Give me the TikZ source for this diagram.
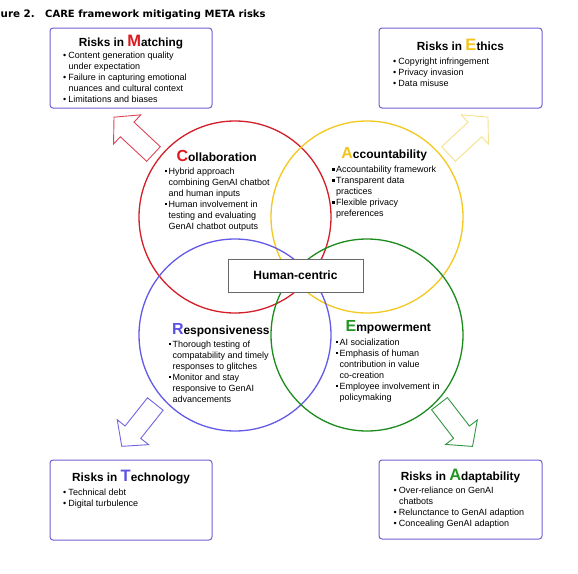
\documentclass[tikz,border=0pt]{standalone}
\usepackage{fontspec}
\setmainfont{Liberation Sans}
\newfontfamily\titlefont{DejaVu Sans}
\definecolor{cred}{RGB}{212,30,40}
\definecolor{cyellow}{RGB}{244,200,30}
\definecolor{cblue}{RGB}{100,90,232}
\definecolor{cgreen}{RGB}{28,140,30}
\definecolor{boxline}{RGB}{112,98,212}
\definecolor{bigred}{RGB}{222,24,30}
\definecolor{bigyellow}{RGB}{242,196,28}
\definecolor{bigblue}{RGB}{92,82,228}
\definecolor{biggreen}{RGB}{34,150,34}
\definecolor{arrred}{RGB}{222,70,88}
\definecolor{arryellow}{RGB}{246,226,140}
\definecolor{arrblue}{RGB}{112,102,226}
\definecolor{arrgreen}{RGB}{50,150,64}
\newcommand\bb{\makebox[5.3pt][l]{\strut•}}
\newcommand\sqb{\makebox[4pt][l]{\strut\raisebox{2.2pt}{\rule{2.3pt}{2.3pt}}}}
\newcommand\bi{\hspace*{5.3pt}}
\newcommand\si{\hspace*{4pt}}
\tikzset{
  riskbox/.style={draw=boxline, line width=1pt, rounded corners=3pt, fill=white},
  ring/.style={circle, line width=1.3pt, minimum size=192pt, inner sep=0pt},
  boxtitle/.style={anchor=base, inner sep=0pt, font=\bfseries\fontsize{11.8}{13}\selectfont},
  ringtitle/.style={anchor=base, inner sep=0pt, font=\bfseries\fontsize{12}{14}\selectfont},
  itemlist/.style={anchor=north west, inner sep=0pt, align=left, font=\fontsize{9}{11}\selectfont},
  blockarrow/.pic={\draw[pic actions, line width=0.9pt, line join=miter]
     (0,-10) -- (36,-10) -- (36,-20) -- (54,0) -- (36,20) -- (36,10) -- (0,10) -- cycle;}
}
\begin{document}
\begin{tikzpicture}[x=1pt,y=-1pt]
\useasboundingbox (0,0) rectangle (578,573);
\clip (0,0) rectangle (578,573);
\fill[white] (0,0) rectangle (578,573);

% title
\node[anchor=base east, inner sep=0pt, font=\titlefont\bfseries\fontsize{10.3}{12}\selectfont] (fignum) at (35,17) {Figure 2.};
\node[anchor=base west, inner sep=0pt, font=\titlefont\bfseries\fontsize{10}{12}\selectfont] (figtitle) at (45,17) {CARE framework mitigating META risks};

% circles
\node[ring, draw=cred] (collab) at (235,217) {};
\node[ring, draw=cyellow] (account) at (367,217) {};
\node[ring, draw=cblue] (respons) at (235,335) {};
\node[ring, draw=cgreen] (empower) at (367,335) {};

% human-centric
\node[draw={rgb,255:red,105;green,105;blue,105}, line width=0.9pt, fill=white, minimum width=135pt, minimum height=33pt, inner sep=0pt, font=\bfseries\fontsize{12}{14}\selectfont] (hc) at (295.5,275.5) {Human-centric};

% risk boxes
\node[riskbox, minimum width=162pt, minimum height=80pt] (matchbox) at (131,68) {};
\node[riskbox, minimum width=163pt, minimum height=80pt] (ethicbox) at (460.5,68) {};
\node[riskbox, minimum width=162pt, minimum height=80pt] (techbox) at (131,500) {};
\node[riskbox, minimum width=163pt, minimum height=79pt] (adaptbox) at (460.5,499.5) {};

% block arrows
\pic[draw=arrred, rotate=137] (arrM) at (153.5,154) {blockarrow};
\pic[draw=arryellow, rotate=43] (arrE) at (448.5,154) {blockarrow};
\pic[draw=arrblue, rotate=231.6] (arrT) at (155.3,404) {blockarrow};
\pic[draw=arrgreen, rotate=307.7] (arrA) at (439.5,403.7) {blockarrow};

% box titles
\node[boxtitle] (tM) at (131,46) {Risks in {\fontsize{16.5}{17}\selectfont\color{bigred}M}atching};
\node[boxtitle] (tE) at (460.5,50.7) {Risks in {\fontsize{16.5}{17}\selectfont\color{bigyellow}E}thics};
\node[boxtitle] (tT) at (131,481) {Risks in {\fontsize{16.5}{17}\selectfont\color{bigblue}T}echnology};
\node[boxtitle] (tA) at (460.5,480.7) {Risks in {\fontsize{16.5}{17}\selectfont\color{biggreen}A}daptability};

% box lists
\node[itemlist] (lM) at (63,50.8) {\bb Content generation quality\\ \bi under expectation\\ \bb Failure in capturing emotional\\ \bi nuances and cultural context\\ \bb Limitations and biases};
\node[itemlist] (lE) at (393,56.3) {\bb Copyright infringement\\ \bb Privacy invasion\\ \bb Data misuse};
\node[itemlist] (lT) at (63,487.3) {\bb Technical debt\\ \bb Digital turbulence};
\node[itemlist] (lA) at (393.5,485.8) {\bb Over-reliance on GenAI\\ \bi chatbots\\ \bb Relunctance to GenAI adaption\\ \bb Concealing GenAI adaption};

% ring titles
\node[ringtitle] (tC) at (216.7,161.5) {{\fontsize{16}{17}\selectfont\color{bigred}C}ollaboration};
\node[ringtitle] (tAc) at (384.2,158.5) {{\fontsize{16}{17}\selectfont\color{bigyellow}A}ccountability};
\node[ringtitle] (tR) at (220.8,334.3) {{\fontsize{16}{17}\selectfont\color{bigblue}R}esponsiveness};
\node[ringtitle] (tEm) at (388.3,331.7) {{\fontsize{16}{17}\selectfont\color{biggreen}E}mpowerment};

% ring lists
\node[itemlist] (lC) at (164.3,166.3) {\sqb Hybrid approach\\ \si combining GenAI chatbot\\ \si and human inputs\\ \sqb Human involvement in\\ \si testing and evaluating\\ \si GenAI chatbot outputs};
\node[itemlist] (lAc) at (332,164.8) {\sqb Accountability framework\\ \sqb Transparent data\\ \si practices\\ \sqb Flexible privacy\\ \si preferences};
\node[itemlist] (lR) at (168.5,339.3) {\sqb Thorough testing of\\ \si compatability and timely\\ \si responses to glitches\\ \sqb Monitor and stay\\ \si responsive to GenAI\\ \si advancements};
\node[itemlist] (lEm) at (335.5,337.3) {\sqb AI socialization\\ \sqb Emphasis of human\\ \si contribution in value\\ \si co-creation\\ \sqb Employee involvement in\\ \si policymaking};
\end{tikzpicture}
\end{document}
